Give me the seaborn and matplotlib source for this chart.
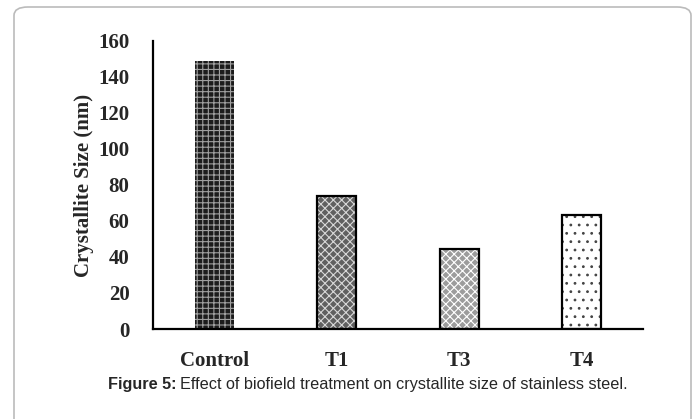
import pandas as pd
import seaborn as sb
import matplotlib.pyplot as plt
from matplotlib.patches import FancyBboxPatch

# datos
tratamientos = ["Control", "T1", "T3", "T4"]
tamano_cristalito = [148.8, 74.1, 44.6, 63.5]

colores_fondo = ["#1c1c1c", "#606060", "#9c9c9c", "#ffffff"]
colores_trama = ["#a0a0a0", "#d8d8d8", "#ffffff", "#444444"]
tramas = ["+++", "xxxx", "xxxx", ".."]

df = pd.DataFrame({"tratamiento": tratamientos, "tamano": tamano_cristalito})

sb.set_style("white")
plt.rcParams["hatch.linewidth"] = 0.8

fig = plt.figure(figsize=(6.97, 4.19), dpi=100)
ax = fig.add_axes([153 / 697, 1 - 329 / 419, 490 / 697, 288 / 419])

sb.barplot(x="tratamiento", y="tamano", data=df, width=0.32, ax=ax,
           color="white", linewidth=0)
for barra, fc, ec, h in zip(ax.patches, colores_fondo, colores_trama, tramas):
    barra.set_facecolor(fc)
    barra.set_edgecolor(ec)
    barra.set_hatch(h)
    barra.set_linewidth(0)

# contorno negro de las barras
sb.barplot(x="tratamiento", y="tamano", data=df, width=0.32, ax=ax,
           fill=False, color="black", linewidth=1.6)
n = len(tratamientos)
ax.patches[n].set_linewidth(0)

ax.set_ylim(0, 160)
ax.set_xlim(-0.5, 3.5)
ax.set_yticks(range(0, 161, 20))
for lado in ["top", "right"]:
    ax.spines[lado].set_visible(False)
for lado in ["left", "bottom"]:
    ax.spines[lado].set_color("black")
    ax.spines[lado].set_linewidth(1.6)
ax.tick_params(axis="y", length=0, pad=17)
ax.tick_params(axis="x", length=0, pad=16)
for t in ax.get_xticklabels() + ax.get_yticklabels():
    t.set_fontfamily("Liberation Serif")
    t.set_fontweight("bold")
    t.set_fontsize(15)
ax.set_xlabel("")
ax.set_ylabel("Crystallite Size (nm)", fontfamily="Liberation Serif",
              fontweight="bold", fontsize=15, labelpad=3)

t1 = fig.text(108 / 697, 1 - 384 / 419, "Figure 5:", fontfamily="Liberation Sans",
              fontweight="bold", fontsize=11.7, va="center")
fig.canvas.draw()
bb = t1.get_window_extent()
fig.text(bb.x1 / 697 + 0.005, 1 - 384 / 419,
         "Effect of biofield treatment on crystallite size of stainless steel.",
         fontfamily="Liberation Sans", fontsize=11.7, va="center")

marco = FancyBboxPatch((14 / 697, -0.1), (691 - 14) / 697, (419 - 7) / 419 + 0.1,
                       boxstyle="round,pad=0,rounding_size=0.02",
                       transform=fig.transFigure, fill=False,
                       edgecolor="#bbbbbb", linewidth=1.2)
fig.patches.append(marco)

plt.savefig("out.png", dpi=100)
